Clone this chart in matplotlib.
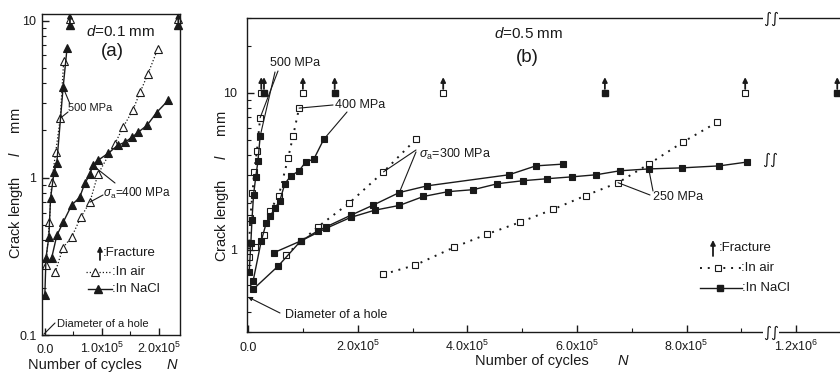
import numpy as np
import matplotlib
matplotlib.use("Agg")
import matplotlib.pyplot as plt
from matplotlib.lines import Line2D
from matplotlib.ticker import NullFormatter, LogLocator

plt.rcParams['font.family'] = ['Liberation Sans', 'DejaVu Sans']
plt.rcParams['mathtext.fontset'] = 'custom'
plt.rcParams['mathtext.rm'] = 'Liberation Sans'
plt.rcParams['mathtext.it'] = 'Liberation Sans:italic'

W, H = 840, 379
INK = '#1a1a1a'

# ---------- panel (a): d = 0.1 mm, N in 1e5 cycles, l in mm
a_air500_N = [0.02, 0.08, 0.12, 0.19, 0.27, 0.33]
a_air500_l = [0.28, 0.52, 0.94, 1.45, 2.39, 5.5]
a_nacl500_N = [0.0, 0.02, 0.07, 0.10, 0.16, 0.21, 0.32, 0.39]
a_nacl500_l = [0.18, 0.31, 0.42, 0.74, 1.08, 1.25, 3.75, 6.7]
a_air400_N = [0.18, 0.32, 0.47, 0.63, 0.79, 0.93, 1.23, 1.37, 1.54, 1.67, 1.81, 1.98]
a_air400_l = [0.25, 0.36, 0.42, 0.56, 0.70, 1.05, 1.65, 2.09, 2.68, 3.49, 4.6, 6.6]
a_nacl400_N = [0.12, 0.21, 0.32, 0.47, 0.61, 0.70, 0.79, 0.84, 0.93, 1.11, 1.28,
               1.40, 1.53, 1.63, 1.79, 1.96, 2.16]
a_nacl400_l = [0.31, 0.43, 0.52, 0.67, 0.75, 0.92, 1.05, 1.20, 1.29, 1.43, 1.61,
               1.68, 1.81, 1.94, 2.15, 2.60, 3.10]
a_frac_air_N = [0.44, 2.33]
a_frac_nacl_N = [0.44, 2.34]

# ---------- panel (b): d = 0.5 mm
b_air500_N = [0.01, 0.04, 0.08, 0.11, 0.16, 0.22]
b_air500_l = [0.9, 1.6, 2.3, 3.14, 4.25, 6.95]
b_nacl500_N = [0.02, 0.05, 0.07, 0.10, 0.14, 0.18, 0.22]
b_nacl500_l = [0.72, 1.1, 1.54, 2.25, 2.92, 3.68, 5.3]
b_air400_N = [0.13, 0.29, 0.40, 0.56, 0.73, 0.82, 0.93]
b_air400_l = [1.05, 1.24, 1.78, 2.22, 3.84, 5.3, 8.0]
b_nacl400_N = [0.09, 0.24, 0.33, 0.40, 0.49, 0.58, 0.67, 0.78, 0.93, 1.05, 1.20, 1.38]
b_nacl400_l = [0.63, 1.14, 1.48, 1.64, 1.84, 2.06, 2.64, 2.96, 3.19, 3.63, 3.79, 5.06]
b_air300_N = [0.69, 1.27, 1.84, 2.47, 3.07]
b_air300_l = [0.93, 1.40, 1.98, 3.14, 5.1]
b_nacl300_N = [0.47, 0.96, 1.27, 1.42, 1.87, 2.27, 2.76, 3.27, 4.76, 5.25, 5.75]
b_nacl300_l = [0.96, 1.14, 1.32, 1.40, 1.66, 1.92, 2.32, 2.56, 3.01, 3.43, 3.52]
b_air250_N = [2.47, 3.05, 3.76, 4.36, 4.96, 5.56, 6.16, 6.75, 7.31, 7.93, 8.55]
b_air250_l = [0.70, 0.80, 1.04, 1.26, 1.50, 1.81, 2.22, 2.68, 3.52, 4.85, 6.48]
b_nacl250_N = [0.09, 0.55, 0.96, 1.42, 1.87, 2.31, 2.76, 3.20, 3.65, 4.11, 4.55,
               5.02, 5.45, 5.91, 6.35, 6.78, 7.31, 7.91, 8.60, 9.11]
b_nacl250_l = [0.56, 0.79, 1.14, 1.37, 1.61, 1.79, 1.92, 2.19, 2.35, 2.42, 2.64,
               2.76, 2.84, 2.92, 3.01, 3.19, 3.28, 3.33, 3.43, 3.63]
b_frac_air_N = [0.24, 1.0, 3.56, 9.07]
b_frac_nacl_N = [0.29, 1.58, 6.51, 12.75]

E5 = 1e5


def n(v):
    return np.asarray(v) * E5


def fx(x, y):
    # figure fraction from pixel position (top-left origin)
    return x / W, 1 - y / H


def fp(x, y):
    return x, H - y


fig = plt.figure(figsize=(W / 100, H / 100), dpi=100)
fig.patch.set_facecolor('white')

air_kw = dict(color=INK, ls=(0, (1, 1.6)), lw=0.9, mfc='white', mec=INK, mew=0.8)
nacl_kw = dict(color=INK, ls='-', lw=1.0, mfc=INK, mec=INK, mew=0.8)
arrow_kw = dict(arrowstyle='-|>', color=INK, lw=1.3, mutation_scale=7, shrinkA=0, shrinkB=0)
lead_kw = dict(arrowstyle='-', color=INK, lw=0.8, shrinkA=0, shrinkB=0)


def style_axis(ax):
    for s in ax.spines.values():
        s.set_linewidth(1.0)
        s.set_color(INK)
    ax.tick_params(which='both', direction='in', colors=INK, labelsize=9,
                   top=False, right=False)
    ax.tick_params(which='major', length=5, width=1.0)
    ax.tick_params(which='minor', length=3, width=0.8)
    ax.yaxis.set_minor_locator(LogLocator(base=10, subs=np.arange(2, 10)))
    ax.yaxis.set_minor_formatter(NullFormatter())


# ================= panel (a)
axa = fig.add_axes([42 / W, 1 - 335 / H, (180 - 42) / W, (335 - 14) / H])
axa.set_yscale('log')
axa.set_ylim(0.1, 11)
axa.set_xlim(-0.05 * E5, 2.37 * E5)
style_axis(axa)

ms_a = 5.5
axa.plot(n(a_air500_N), a_air500_l, marker='^', ms=ms_a, **air_kw)
axa.plot(n(a_air400_N), a_air400_l, marker='^', ms=ms_a, **air_kw)
axa.plot(n(a_nacl500_N), a_nacl500_l, marker='^', ms=ms_a, **nacl_kw)
axa.plot(n(a_nacl400_N), a_nacl400_l, marker='^', ms=ms_a, **nacl_kw)
for v in a_frac_nacl_N:
    axa.plot([v * E5], [9.3], marker='^', ms=ms_a, ls='none', mfc=INK, mec=INK, clip_on=False)
    axa.annotate('', xy=(v * E5, 11.2), xytext=(v * E5, 9.3), arrowprops=arrow_kw,
                 annotation_clip=False)
for v in a_frac_air_N:
    axa.plot([v * E5], [10.2], marker='^', ms=ms_a, ls='none', mfc='white', mec=INK,
             mew=0.8, clip_on=False)

axa.set_yticks([0.1, 1, 10])
axa.set_yticklabels(['0.1', '1', '10'])
axa.set_xticks([0, 1 * E5, 2 * E5])
axa.set_xticks([0.5 * E5, 1.5 * E5], minor=True)
axa.xaxis.set_minor_formatter(NullFormatter())
axa.set_xticklabels(['0.0', r'1.0x10$^5$', r'2.0x10$^5$'])
plt.setp(axa.get_xticklabels(), va='baseline')
axa.tick_params(axis='x', pad=13)
axa.tick_params(axis='y', pad=4)

fig.text(*fx(86, 32), r'$d$=0.1 mm', fontsize=11, va='center', ha='left', color=INK)
fig.text(*fx(112, 52), '(a)', fontsize=13.5, va='center', ha='center', color=INK)
fig.text(*fx(68, 108), '500 MPa', fontsize=8, va='center', ha='left', color=INK)
axa.annotate('', xy=(n(a_nacl500_N)[6], a_nacl500_l[6]), xytext=fp(70, 104),
             textcoords='figure pixels', arrowprops=lead_kw)
axa.annotate('', xy=(n(a_air500_N)[4], a_air500_l[4]), xytext=fp(68, 112),
             textcoords='figure pixels', arrowprops=lead_kw)
fig.text(*fx(103, 193), r'$\sigma_\mathrm{a}$=400 MPa', fontsize=8.5, va='center',
         ha='left', color=INK)
axa.annotate('', xy=(n(a_air400_N)[4], a_air400_l[4]), xytext=fp(103, 195),
             textcoords='figure pixels', arrowprops=lead_kw)
axa.annotate('', xy=(n(a_nacl400_N)[7], a_nacl400_l[7]), xytext=fp(115, 183),
             textcoords='figure pixels', arrowprops=lead_kw)
fig.text(*fx(57, 324), 'Diameter of a hole', fontsize=8, va='center', ha='left', color=INK)
axa.annotate('', xy=fp(44, 334), xytext=fp(55, 323), xycoords='figure pixels',
             textcoords='figure pixels', arrowprops=lead_kw)

# legend (a)
axa.annotate('', xy=fp(100, 246), xytext=fp(100, 260), xycoords='figure pixels',
             textcoords='figure pixels', arrowprops=arrow_kw)
fig.text(*fx(103, 253), ':Fracture', fontsize=9.5, va='center', ha='left', color=INK)
fig.add_artist(Line2D([86 / W, 112 / W], [1 - 272 / H] * 2, transform=fig.transFigure,
                      **{k: v for k, v in air_kw.items() if k not in ('mfc', 'mec', 'mew')}))
fig.add_artist(Line2D([95 / W], [1 - 272 / H], transform=fig.transFigure, marker='^',
                      ms=ms_a, ls='none', mfc='white', mec=INK, mew=0.8))
fig.text(*fx(112, 272), ':In air', fontsize=9.5, va='center', ha='left', color=INK)
fig.add_artist(Line2D([88 / W, 112 / W], [1 - 289 / H] * 2, transform=fig.transFigure,
                      color=INK, lw=1.0))
fig.add_artist(Line2D([98 / W], [1 - 289 / H], transform=fig.transFigure, marker='^',
                      ms=ms_a, ls='none', mfc=INK, mec=INK))
fig.text(*fx(112, 289), ':In NaCl', fontsize=9.5, va='center', ha='left', color=INK)

fig.text(*fx(16, 183), 'Crack length     $l$     mm', fontsize=10.5, rotation=90,
         va='center', ha='center', color=INK)
fig.text(*fx(28, 365), 'Number of cycles', fontsize=10.5, va='center', ha='left', color=INK)
fig.text(*fx(166, 365), '$N$', fontsize=10.5, va='center', ha='left', color=INK)

# ================= panel (b) with broken x axis
BRK, GAP = 9.55e5, 2.0e5


def fwd(v):
    v = np.asarray(v, dtype=float)
    return np.where(v <= BRK, v, np.where(v >= BRK + GAP, v - GAP, BRK))


def inv(t):
    t = np.asarray(t, dtype=float)
    return np.where(t <= BRK, t, t + GAP)


axb = fig.add_axes([247 / W, 1 - 332 / H, (840 - 247) / W, (332 - 18) / H])
axb.set_xscale('function', functions=(fwd, inv))
axb.set_yscale('log')
axb.set_ylim(0.3, 30)
axb.set_xlim(-0.02 * E5, 12.8 * E5)
style_axis(axb)
axb.spines['right'].set_visible(False)

bair_kw = dict(air_kw, ls=(0, (1, 3)), lw=1.4)
ms_b = 4.5
for N_, l_ in [(b_air500_N, b_air500_l), (b_air400_N, b_air400_l),
               (b_air300_N, b_air300_l), (b_air250_N, b_air250_l)]:
    axb.plot(n(N_), l_, marker='s', ms=ms_b, **bair_kw)
for N_, l_ in [(b_nacl500_N, b_nacl500_l), (b_nacl400_N, b_nacl400_l),
               (b_nacl300_N, b_nacl300_l), (b_nacl250_N, b_nacl250_l)]:
    axb.plot(n(N_), l_, marker='s', ms=ms_b, **nacl_kw)
axb.plot(n(b_frac_air_N), [10] * len(b_frac_air_N), marker='s', ms=ms_b, ls='none',
         mfc='white', mec=INK, mew=0.8, clip_on=False)
axb.plot(n(b_frac_nacl_N), [10] * len(b_frac_nacl_N), marker='s', ms=ms_b, ls='none',
         mfc=INK, mec=INK, clip_on=False)
for v in b_frac_air_N + b_frac_nacl_N:
    axb.annotate('', xy=(v * E5, 12.6), xytext=(v * E5, 10.6), arrowprops=arrow_kw,
                 annotation_clip=False)

axb.set_yticks([1, 10])
axb.set_yticklabels(['1', '10'])
axb.set_xticks([0, 2 * E5, 4 * E5, 6 * E5, 8 * E5, 12 * E5])
axb.set_xticks([1 * E5, 3 * E5, 5 * E5, 7 * E5, 9 * E5], minor=True)
axb.xaxis.set_minor_formatter(NullFormatter())
axb.set_xticklabels(['0.0', r'2.0x10$^5$', r'4.0x10$^5$', r'6.0x10$^5$',
                     r'8.0x10$^5$', r'1.2x10$^6$'])
plt.setp(axb.get_xticklabels(), va='baseline')
axb.tick_params(axis='x', pad=14)
axb.tick_params(axis='y', pad=7)

# break marks
brk_kw = dict(fontsize=11, family='DejaVu Sans', color=INK, ha='center', va='center')
axb.text(BRK, 1.0, '\u222b\u222b', transform=axb.get_xaxis_transform(), clip_on=False,
         bbox=dict(fc='white', ec='none', pad=0), **brk_kw)
axb.text(BRK, 0.0, '\u222b\u222b', transform=axb.get_xaxis_transform(), clip_on=False,
         bbox=dict(fc='white', ec='none', pad=0), **brk_kw)
axb.text(n(b_nacl250_N)[-1] + 0.42 * E5, b_nacl250_l[-1] * 1.03, '\u222b\u222b', **brk_kw)

fig.text(*fx(494, 34), r'$d$=0.5 mm', fontsize=11, va='center', ha='left', color=INK)
fig.text(*fx(527, 58), '(b)', fontsize=13.5, va='center', ha='center', color=INK)

fig.text(*fx(270, 63), '500 MPa', fontsize=9, va='center', ha='left', color=INK)
axb.annotate('', xy=(n(b_air500_N)[5], b_air500_l[5]), xytext=fp(278, 71),
             textcoords='figure pixels', arrowprops=lead_kw)
axb.annotate('', xy=(n(b_nacl500_N)[6], b_nacl500_l[6]), xytext=fp(275, 72),
             textcoords='figure pixels', arrowprops=lead_kw)
fig.text(*fx(335, 105), '400 MPa', fontsize=9, va='center', ha='left', color=INK)
axb.annotate('', xy=(n(b_air400_N)[6], b_air400_l[6]), xytext=fp(333, 105),
             textcoords='figure pixels', arrowprops=lead_kw)
axb.annotate('', xy=(n(b_nacl400_N)[11], b_nacl400_l[11]), xytext=fp(347, 112),
             textcoords='figure pixels', arrowprops=lead_kw)
fig.text(*fx(419, 154), r'$\sigma_\mathrm{a}$=300 MPa', fontsize=9, va='center',
         ha='left', color=INK)
axb.annotate('', xy=(n(b_air300_N)[3], b_air300_l[3]), xytext=fp(416, 150),
             textcoords='figure pixels', arrowprops=lead_kw)
axb.annotate('', xy=(n(b_nacl300_N)[6], b_nacl300_l[6]), xytext=fp(416, 152),
             textcoords='figure pixels', arrowprops=lead_kw)
fig.text(*fx(653, 197), '250 MPa', fontsize=9, va='center', ha='left', color=INK)
axb.annotate('', xy=(n(b_nacl250_N)[16], b_nacl250_l[16]), xytext=fp(653, 191),
             textcoords='figure pixels', arrowprops=lead_kw)
axb.annotate('', xy=(n(b_air250_N)[7], b_air250_l[7]), xytext=fp(650, 195),
             textcoords='figure pixels', arrowprops=lead_kw)

fig.text(*fx(285, 315), 'Diameter of a hole', fontsize=9, va='center', ha='left', color=INK)
axb.annotate('', xy=fp(248, 297), xytext=fp(280, 313), xycoords='figure pixels',
             textcoords='figure pixels',
             arrowprops=dict(arrowstyle='-|>', color=INK, lw=0.8, mutation_scale=6,
                             shrinkA=0, shrinkB=0))

# legend (b)
axb.annotate('', xy=fp(713, 240), xytext=fp(713, 256), xycoords='figure pixels',
             textcoords='figure pixels', arrowprops=arrow_kw)
fig.text(*fx(719, 248), ':Fracture', fontsize=9.5, va='center', ha='left', color=INK)
fig.add_artist(Line2D([700 / W, 741 / W], [1 - 268 / H] * 2, transform=fig.transFigure,
                      color=INK, ls=(0, (1, 3)), lw=1.4))
fig.add_artist(Line2D([718 / W], [1 - 268 / H], transform=fig.transFigure, marker='s',
                      ms=ms_b, ls='none', mfc='white', mec=INK, mew=0.8))
fig.text(*fx(741, 268), ':In air', fontsize=9.5, va='center', ha='left', color=INK)
fig.add_artist(Line2D([700 / W, 742 / W], [1 - 288 / H] * 2, transform=fig.transFigure,
                      color=INK, lw=1.0))
fig.add_artist(Line2D([720 / W], [1 - 288 / H], transform=fig.transFigure, marker='s',
                      ms=ms_b, ls='none', mfc=INK, mec=INK))
fig.text(*fx(742, 288), ':In NaCl', fontsize=9.5, va='center', ha='left', color=INK)

fig.text(*fx(222, 186), 'Crack length     $l$     mm', fontsize=10.5, rotation=90,
         va='center', ha='center', color=INK)
fig.text(*fx(475, 361), 'Number of cycles', fontsize=10.5, va='center', ha='left', color=INK)
fig.text(*fx(617, 361), '$N$', fontsize=10.5, va='center', ha='left', color=INK)

fig.savefig('out.png', dpi=100)
